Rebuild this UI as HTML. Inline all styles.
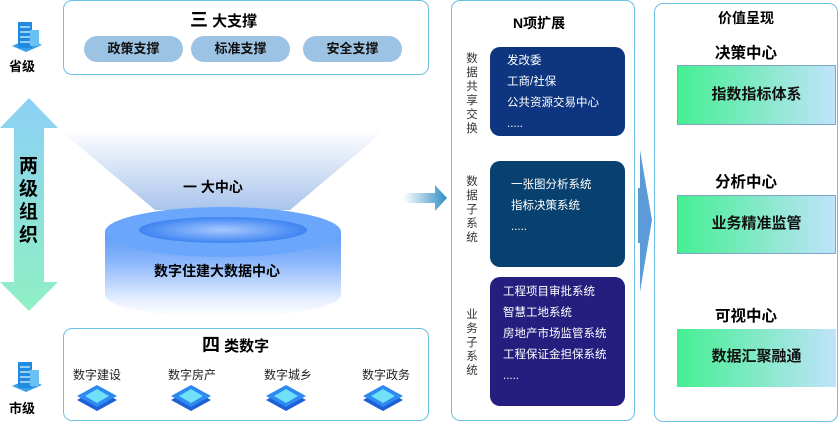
<!DOCTYPE html><html><head><meta charset="utf-8"><style>
*{margin:0;padding:0;box-sizing:border-box}
body{width:839px;height:424px;background:#fff;position:relative;overflow:hidden;font-family:"Liberation Sans","Noto Sans CJK SC",sans-serif}
.a{position:absolute}
.box{position:absolute;border:1.5px solid #6cc0e4;border-radius:9px}
.pill{position:absolute;top:36px;height:26px;width:99px;border-radius:13px;background:#9cc3e3;font-size:13px;font-weight:bold;text-align:center;line-height:26px;color:#111}
.t{position:absolute;white-space:nowrap}
.db{position:absolute;left:490px;width:135px;border-radius:10px;color:#fff;font-size:11.5px;line-height:21px}
.vl{position:absolute;left:465px;width:14px;font-size:11.5px;line-height:14px;color:#333;text-align:center}
.g{position:absolute;left:677px;width:159px;background:linear-gradient(90deg,#45ef92,#bfe3fb);border:1.5px solid #7ea6c8;font-size:15px;font-weight:bold;text-align:center;color:#111}
.h{position:absolute;left:654px;width:184px;text-align:center;font-size:15.5px;font-weight:bold}
.chip{position:absolute;top:383px;width:42px;height:32px}
</style></head><body>
<div class="box" style="left:63px;top:0;width:366px;height:75px"></div>
<div class="t" style="left:190px;top:6px;font-size:15px;font-weight:bold"><span style="font-size:18px">三</span> 大支撑</div>
<div class="pill" style="left:84px">政策支撑</div>
<div class="pill" style="left:191px">标准支撑</div>
<div class="pill" style="left:303px">安全支撑</div>
<svg class="a" style="left:8px;top:18px" width="36" height="38"><polygon points="4,28 18,34 34,27 20,21" fill="#3aa0e8"/><rect x="10" y="4" width="14" height="26" fill="#1f8ae0"/><rect x="22" y="12" width="9" height="16" fill="#6ac0f5"/><g stroke="#bfe6ff" stroke-width="1.5"><line x1="12" y1="9" x2="22" y2="9"/><line x1="12" y1="14" x2="22" y2="14"/><line x1="12" y1="19" x2="22" y2="19"/><line x1="12" y1="24" x2="22" y2="24"/></g></svg>
<div class="t" style="left:9px;top:56px;font-size:13px;font-weight:bold">省级</div>
<svg class="a" style="left:8px;top:358px" width="36" height="38"><polygon points="4,28 18,34 34,27 20,21" fill="#3aa0e8"/><rect x="10" y="4" width="14" height="26" fill="#1f8ae0"/><rect x="22" y="12" width="9" height="16" fill="#6ac0f5"/><g stroke="#bfe6ff" stroke-width="1.5"><line x1="12" y1="9" x2="22" y2="9"/><line x1="12" y1="14" x2="22" y2="14"/><line x1="12" y1="19" x2="22" y2="19"/><line x1="12" y1="24" x2="22" y2="24"/></g></svg>
<div class="t" style="left:9px;top:398px;font-size:13px;font-weight:bold">市级</div>
<svg class="a" style="left:0;top:98px" width="60" height="214"><defs><linearGradient id="va" x1="0" y1="0" x2="0" y2="1"><stop offset="0" stop-color="#8cd0f5"/><stop offset="1" stop-color="#8ff0c4"/></linearGradient></defs><polygon points="29,0 58,30 44,30 44,184 58,184 29,213 0,184 14,184 14,30 0,30" fill="url(#va)"/></svg>
<div class="t" style="left:19px;top:155px;width:20px;font-size:19px;line-height:23px;font-weight:bold;white-space:normal">两级组织</div>
<svg class="a" style="left:55px;top:125px" width="340" height="200"><defs><linearGradient id="cn" x1="0" y1="0" x2="0" y2="1"><stop offset="0" stop-color="#fff"/><stop offset="1" stop-color="#a9c4ec"/></linearGradient><linearGradient id="bd" x1="0" y1="0" x2="0" y2="1"><stop offset="0" stop-color="#5b9af8"/><stop offset="0.35" stop-color="#8ab6fb"/><stop offset="0.8" stop-color="#e6efff"/><stop offset="1" stop-color="#fff"/></linearGradient><radialGradient id="in"><stop offset="0" stop-color="#a6c8ff"/><stop offset="1" stop-color="#3d84f2"/></radialGradient></defs>
<polygon points="5,5 330,5 235,85 100,85" fill="url(#cn)"/>
<path d="M50,107 L50,170 A118,22 0 0 0 286,170 L286,107 Z" fill="url(#bd)"/>
<ellipse cx="168" cy="107" rx="118" ry="25" fill="#6aa6fb"/>
<ellipse cx="168" cy="105" rx="84" ry="13" fill="url(#in)"/>
</svg>
<div class="t" style="left:183px;top:177px;font-size:14px;font-weight:bold">一 大中心</div>
<div class="t" style="left:154px;top:261px;font-size:14px;font-weight:bold">数字住建大数据中心</div>
<div class="box" style="left:63px;top:328px;width:366px;height:93px"></div>
<div class="t" style="left:202px;top:331px;font-size:15px;font-weight:bold"><span style="font-size:18px">四</span> 类数字</div>
<div class="t" style="left:73px;top:366px;font-size:12px;color:#222">数字建设</div>
<div class="t" style="left:168px;top:366px;font-size:12px;color:#222">数字房产</div>
<div class="t" style="left:264px;top:366px;font-size:12px;color:#222">数字城乡</div>
<div class="t" style="left:362px;top:366px;font-size:12px;color:#222">数字政务</div>
<svg class="chip" style="left:76px"><polygon points="21,6 41,17 21,28 1,17" fill="#1d5fd6"/><polygon points="21,2 41,13 21,24 1,13" fill="#2e8af0"/><polygon points="21,6 33,13 21,20 9,13" fill="#6fe0f8"/></svg>
<svg class="chip" style="left:170px"><polygon points="21,6 41,17 21,28 1,17" fill="#1d5fd6"/><polygon points="21,2 41,13 21,24 1,13" fill="#2e8af0"/><polygon points="21,6 33,13 21,20 9,13" fill="#6fe0f8"/></svg>
<svg class="chip" style="left:265px"><polygon points="21,6 41,17 21,28 1,17" fill="#1d5fd6"/><polygon points="21,2 41,13 21,24 1,13" fill="#2e8af0"/><polygon points="21,6 33,13 21,20 9,13" fill="#6fe0f8"/></svg>
<svg class="chip" style="left:362px"><polygon points="21,6 41,17 21,28 1,17" fill="#1d5fd6"/><polygon points="21,2 41,13 21,24 1,13" fill="#2e8af0"/><polygon points="21,6 33,13 21,20 9,13" fill="#6fe0f8"/></svg>
<svg class="a" style="left:403px;top:185px" width="44" height="26"><defs><linearGradient id="ra"><stop offset="0" stop-color="#fff"/><stop offset="1" stop-color="#2f8fc4"/></linearGradient></defs><polygon points="0,8 32,8 32,0 44,13 32,26 32,18 0,18" fill="url(#ra)"/></svg>
<div class="box" style="left:451px;top:0;width:184px;height:421px"></div>
<div class="t" style="left:513px;top:13px;font-size:14px;font-weight:bold">N项扩展</div>
<div class="vl" style="top:52px">数据共享交换</div>
<div class="vl" style="top:175px">数据子系统</div>
<div class="vl" style="top:308px">业务子系统</div>
<div class="db" style="top:47px;height:89px;background:#0d3580;padding:4px 0 0 17px">发改委<br>工商/社保<br>公共资源交易中心<br>.....</div>
<div class="db" style="top:161px;height:106px;background:#08416f;padding:14px 0 0 21px">一张图分析系统<br>指标决策系统<br>.....</div>
<div class="db" style="top:277px;height:129px;background:#251e7e;padding:5px 0 0 13px">工程项目审批系统<br>智慧工地系统<br>房地产市场监管系统<br>工程保证金担保系统<br>.....</div>
<svg class="a" style="left:638px;top:150px" width="16" height="142"><polygon points="2,0 14,70 2,142 2,93 0,93 0,38 2,38" fill="#5c9bd8"/></svg>
<div class="box" style="left:654px;top:3px;width:184px;height:419px"></div>
<div class="h" style="top:8px;font-size:14px">价值呈现</div>
<div class="h" style="top:41px">决策中心</div>
<div class="g" style="top:65px;height:60px;line-height:57px">指数指标体系</div>
<div class="h" style="top:170px">分析中心</div>
<div class="g" style="top:195px;height:59px;line-height:56px">业务精准监管</div>
<div class="h" style="top:304px">可视中心</div>
<div class="g" style="top:329px;height:58px;line-height:56px;border:none">数据汇聚融通</div>
</body></html>
